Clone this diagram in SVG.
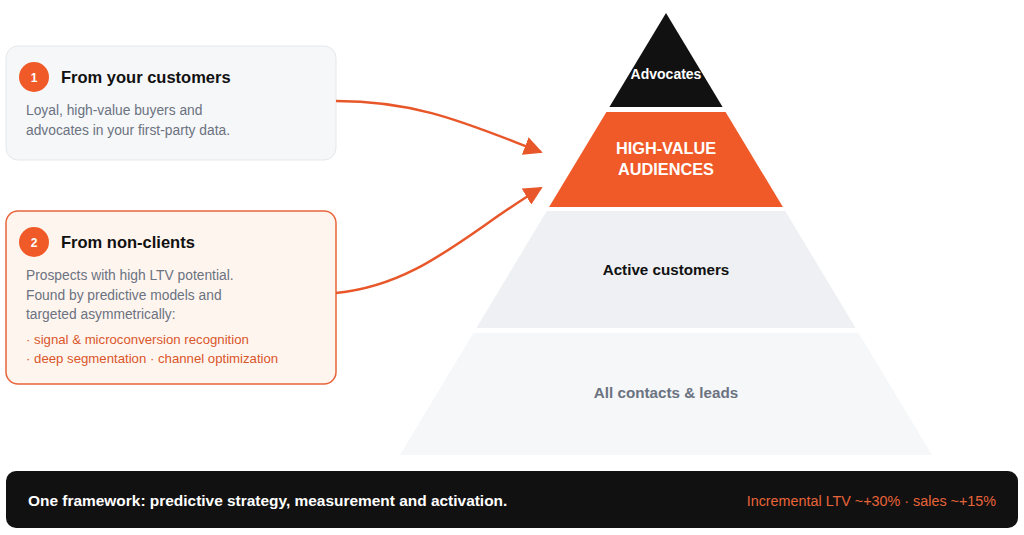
<svg xmlns="http://www.w3.org/2000/svg" width="1024" height="535" viewBox="0 0 1024 535">
<defs>
<style>
.t{font-family:"Liberation Sans",Arial,sans-serif}
.title{font-size:16.5px;font-weight:bold;fill:#111111}
.body{font-size:13.8px;fill:#6b7280}
.acc{font-size:13.2px;fill:#d9552a}
.num{font-size:12px;font-weight:bold;fill:#ffffff}
.conn{fill:none;stroke:#e8572a;stroke-width:2.5}
</style>
<marker id="ah" viewBox="0 0 10 10" refX="9" refY="5" markerWidth="7.5" markerHeight="7.5" markerUnits="strokeWidth" orient="auto">
<path d="M0,0 L10,5 L0,10 z" fill="#e8572a"/>
</marker>
</defs>
<rect width="1024" height="535" fill="#ffffff"/>

<g id="box1">
<rect x="6" y="46" width="330" height="114" rx="12" fill="#f6f7f9" stroke="#e5e7eb" stroke-width="1"/>
<circle cx="34" cy="77" r="15" fill="#f05a28"/>
<text class="t num" x="34" y="81.5" text-anchor="middle">1</text>
<text class="t title" x="61" y="83">From your customers</text>
<text class="t body" x="26" y="115">Loyal, high-value buyers and</text>
<text class="t body" x="26" y="135">advocates in your first-party data.</text>
</g>

<g id="box2">
<rect x="6" y="211" width="330" height="173" rx="12" fill="#fff5ef" stroke="#e8643a" stroke-width="1.5"/>
<circle cx="34" cy="242" r="15" fill="#f05a28"/>
<text class="t num" x="34" y="246.5" text-anchor="middle">2</text>
<text class="t title" x="61" y="248">From non-clients</text>
<text class="t body" x="26" y="280">Prospects with high LTV potential.</text>
<text class="t body" x="26" y="300">Found by predictive models and</text>
<text class="t body" x="26" y="319">targeted asymmetrically:</text>
<text class="t acc" x="26" y="344">· signal &amp; microconversion recognition</text>
<text class="t acc" x="26" y="363">· deep segmentation · channel optimization</text>
</g>

<g id="tier-advocates">
<polygon points="666,13 722.6,107 609.4,107" fill="#111111"/>
<text class="t" x="666" y="79" text-anchor="middle" font-size="14" font-weight="bold" fill="#ffffff">Advocates</text>
</g>

<g id="tier-high-value">
<polygon points="606.4,112 725.6,112 782.9,207 549.1,207" fill="#f05a28"/>
<text class="t" x="666" y="154" text-anchor="middle" font-size="16.3" font-weight="bold" fill="#ffffff">HIGH-VALUE</text>
<text class="t" x="666" y="175" text-anchor="middle" font-size="16.3" font-weight="bold" fill="#ffffff">AUDIENCES</text>
</g>

<g id="tier-active">
<polygon points="546.8,211 785.2,211 855.6,328 476.4,328" fill="#eef0f3"/>
<text class="t" x="666" y="275" text-anchor="middle" font-size="15.2" font-weight="bold" fill="#111111">Active customers</text>
</g>

<g id="tier-all">
<polygon points="473.4,333 858.6,333 932,455 400,455" fill="#f5f7f9"/>
<text class="t" x="666" y="398" text-anchor="middle" font-size="15.2" font-weight="bold" fill="#6b7280">All contacts &amp; leads</text>
</g>

<g id="connectors">
<path class="conn" d="M336,101 C420,101 470,125 541,152" marker-end="url(#ah)"/>
<path class="conn" d="M336,293 C420,285 470,230 541,188" marker-end="url(#ah)"/>
</g>

<g id="footer">
<rect x="6" y="471" width="1012" height="57" rx="10" fill="#111111"/>
<text class="t" x="28" y="506" font-size="15.45" font-weight="bold" fill="#ffffff">One framework: predictive strategy, measurement and activation.</text>
<text class="t" x="996" y="506" text-anchor="end" font-size="14.35" fill="#e8643a">Incremental LTV ~+30% · sales ~+15%</text>
</g>
</svg>
